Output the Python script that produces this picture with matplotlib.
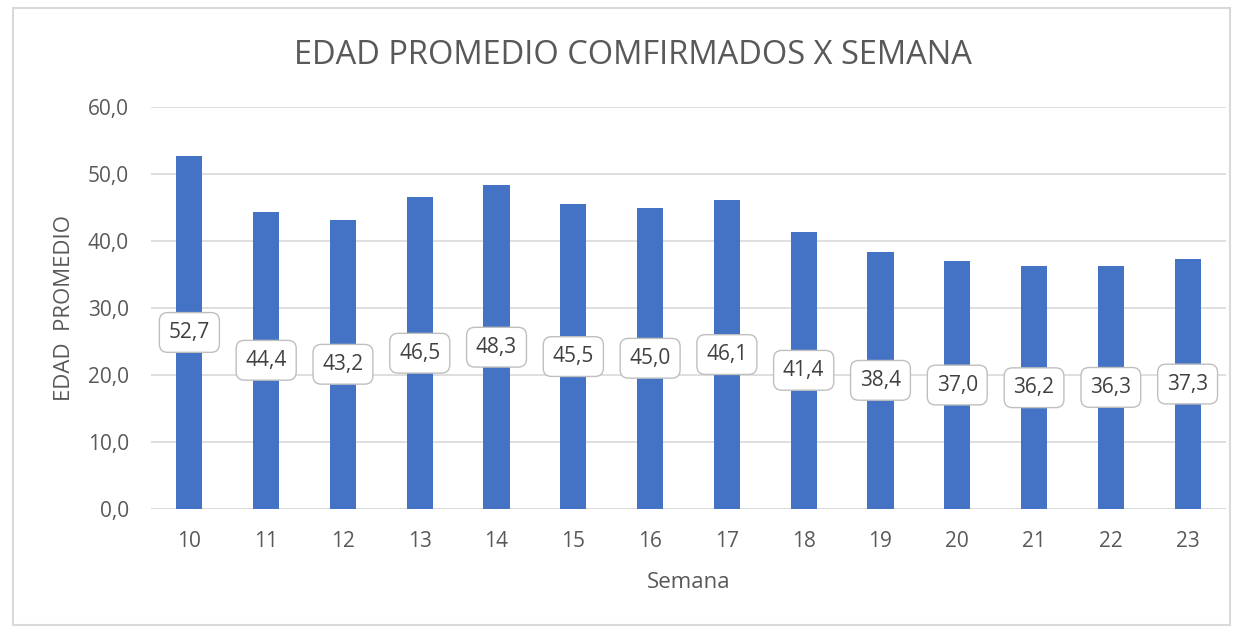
import matplotlib
matplotlib.use("Agg")
import matplotlib.pyplot as plt
from matplotlib.patches import Rectangle

semanas = ["10", "11", "12", "13", "14", "15", "16", "17", "18", "19", "20", "21", "22", "23"]
edad = [52.7, 44.4, 43.2, 46.5, 48.3, 45.5, 45.0, 46.1, 41.4, 38.4, 37.0, 36.2, 36.3, 37.3]
yticks = [0, 10, 20, 30, 40, 50, 60]

plt.rcParams['font.family'] = ['Open Sans', 'DejaVu Sans']
txt = '#595959'
fs = 15

fig = plt.figure(figsize=(12.36, 6.27), dpi=100)
fig.patches.append(Rectangle((13/1236, 2/627), 1217/1236, 617/627, transform=fig.transFigure,
                             fill=False, edgecolor='#D9D9D9', linewidth=1.5))
ax = fig.add_axes([151/1236, 1-509/627, 1075/1236, 402/627])
x = list(range(len(semanas)))
ax.bar(x, edad, width=0.34, color='#4472C4', zorder=2)
ax.set_xlim(-0.5, len(semanas)-0.5)
ax.set_ylim(0, 60)
ax.set_yticks(yticks)
ax.set_yticklabels([f"{v:.1f}".replace('.', ',') for v in yticks], color=txt, fontsize=fs)
ax.set_xticks(x)
ax.set_xticklabels(semanas, color=txt, fontsize=fs)
ax.tick_params(axis='x', length=0, pad=16)
ax.tick_params(axis='y', length=0, pad=16)
ax.grid(axis='y', color='#D9D9D9', linewidth=1.2, zorder=0)
for s in ax.spines.values():
    s.set_visible(False)
ax.axhline(0, color='#D9D9D9', linewidth=1.2, zorder=1)

for xi, v in zip(x, edad):
    ax.text(xi, v/2, f"{v:.1f}".replace('.', ','), ha='center', va='center', fontsize=fs, color='#404040',
            zorder=3, bbox=dict(boxstyle='round,pad=0.45,rounding_size=0.4', fc='white', ec='#BFBFBF', lw=1))

ax.set_xlabel("Semana", color=txt, fontsize=fs+1, labelpad=14)
ax.set_ylabel("EDAD  PROMEDIO", color=txt, fontsize=fs+1, labelpad=9)
fig.text(633/1236, 1-55/627, "EDAD PROMEDIO COMFIRMADOS X SEMANA", ha='center', va='center',
         fontsize=23.5, color=txt)

fig.savefig("out.png", dpi=100)
